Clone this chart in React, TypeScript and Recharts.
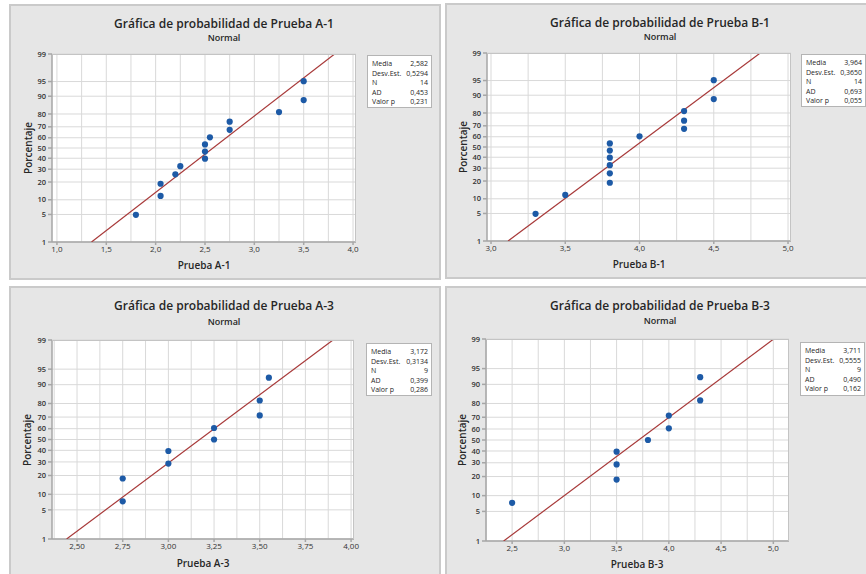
import React from 'react';
import { ScatterChart, Scatter, XAxis, YAxis, CartesianGrid } from 'recharts';

// percent scale of the normal probability axis
const percentTicks = [1, 5, 10, 20, 30, 40, 50, 60, 70, 80, 90, 95, 99];
const statLabels = ['Media', 'Desv.Est.', 'N', 'AD', 'Valor p'];
const statDigits = [3, 4, 0, 3, 3];

// Prueba A-1
const a1Values = [1.8, 2.05, 2.05, 2.2, 2.25, 2.5, 2.5, 2.5, 2.55, 2.75, 2.75, 3.25, 3.5, 3.5];
const a1Percent = [4.9, 11.8, 18.8, 25.7, 32.6, 39.6, 46.5, 53.5, 60.4, 67.4, 74.3, 81.3, 88.2, 95.1];
const a1Stats = [2.582, 0.5294, 14, 0.453, 0.231];
const a1XTicks = [1, 1.5, 2, 2.5, 3, 3.5, 4];
const a1XGrid = [1, 1.25, 1.5, 1.75, 2, 2.25, 2.5, 2.75, 3, 3.25, 3.5, 3.75, 4];

// Prueba B-1
const b1Values = [3.3, 3.5, 3.8, 3.8, 3.8, 3.8, 3.8, 3.8, 4.0, 4.3, 4.3, 4.3, 4.5, 4.5];
const b1Percent = [4.9, 11.8, 18.8, 25.7, 32.6, 39.6, 46.5, 53.5, 60.4, 67.4, 74.3, 81.3, 88.2, 95.1];
const b1Stats = [3.964, 0.365, 14, 0.693, 0.055];
const b1XTicks = [3, 3.5, 4, 4.5, 5];
const b1XGrid = [3, 3.25, 3.5, 3.75, 4, 4.25, 4.5, 4.75, 5];

// Prueba A-3
const a3Values = [2.75, 2.75, 3.0, 3.0, 3.25, 3.25, 3.5, 3.5, 3.55];
const a3Percent = [7.4, 18.1, 28.7, 39.4, 50, 60.6, 71.3, 81.9, 92.6];
const a3Stats = [3.172, 0.3134, 9, 0.399, 0.286];
const a3XTicks = [2.5, 2.75, 3, 3.25, 3.5, 3.75, 4];
const a3XGrid = [2.375, 2.5, 2.625, 2.75, 2.875, 3, 3.125, 3.25, 3.375, 3.5, 3.625, 3.75, 3.875, 4];

// Prueba B-3
const b3Values = [2.5, 3.5, 3.5, 3.5, 3.8, 4.0, 4.0, 4.3, 4.3];
const b3Percent = [7.4, 18.1, 28.7, 39.4, 50, 60.6, 71.3, 81.9, 92.6];
const b3Stats = [3.711, 0.5555, 9, 0.49, 0.162];
const b3XTicks = [2.5, 3, 3.5, 4, 4.5, 5];
const b3XGrid = [2.25, 2.5, 2.75, 3, 3.25, 3.5, 3.75, 4, 4.25, 4.5, 4.75, 5];

// inverse of the standard normal CDF (Acklam)
function normInv(p: number): number {
  const a = [-39.69683028665376, 220.9460984245205, -275.9285104469687, 138.357751867269, -30.66479806614716, 2.506628277459239];
  const b = [-54.47609879822406, 161.5858368580409, -155.6989798598866, 66.80131188771972, -13.28068155288572];
  const c = [-0.007784894002430293, -0.3223964580411365, -2.400758277161838, -2.549732539343734, 4.374664141464968, 2.938163982698783];
  const d = [0.007784695709041462, 0.3224671290700398, 2.445134137142996, 3.754408661907416];
  const pl = 0.02425;
  if (p < pl) {
    const q = Math.sqrt(-2 * Math.log(p));
    return (((((c[0] * q + c[1]) * q + c[2]) * q + c[3]) * q + c[4]) * q + c[5]) / ((((d[0] * q + d[1]) * q + d[2]) * q + d[3]) * q + 1);
  }
  if (p > 1 - pl) {
    const q = Math.sqrt(-2 * Math.log(1 - p));
    return -(((((c[0] * q + c[1]) * q + c[2]) * q + c[3]) * q + c[4]) * q + c[5]) / ((((d[0] * q + d[1]) * q + d[2]) * q + d[3]) * q + 1);
  }
  const q = p - 0.5;
  const r = q * q;
  return (((((a[0] * r + a[1]) * r + a[2]) * r + a[3]) * r + a[4]) * r + a[5]) * q / (((((b[0] * r + b[1]) * r + b[2]) * r + b[3]) * r + b[4]) * r + 1);
}

const zTicks = percentTicks.map((p) => normInv(p / 100));
const zLo = zTicks[0];
const zHi = zTicks[zTicks.length - 1];

const fmt = (v: number, digits: number) => v.toFixed(digits).replace('.', ',');

const FONT = '"Open Sans", "Noto Sans", sans-serif';
const TEXT = '#262626';

type Rect = { x: number; y: number; w: number; h: number };
type Pt = { x: number; y: number };

interface PanelProps {
  name: string;
  values: number[];
  percent: number[];
  stats: number[];
  xDomain: [number, number];
  xTicks: number[];
  xGrid: number[];
  tickDigits: number;
  panel: Rect;
  plot: { left: number; top: number; right: number; bottom: number };
  title: Pt;
  sub: Pt;
  xLabel: Pt;
  yLabel: Pt;
  box: Rect;
}

const Dot = (props: any) => <circle cx={props.cx} cy={props.cy} r={3.1} fill="#1d5aa6" />;

const Panel = (p: PanelProps) => {
  const points = p.values.map((v, i) => ({ x: v, z: normInv(p.percent[i] / 100) }));
  const mean = p.stats[0];
  const sd = p.stats[1];
  const fit = [
    { x: mean + sd * zLo, z: zLo },
    { x: mean + sd * zHi, z: zHi },
  ];
  const ox = p.panel.x;
  const oy = p.panel.y;
  const xAxisH = 24;
  const yAxisW = p.plot.left - ox;
  const margin = {
    top: p.plot.top - oy,
    right: ox + p.panel.w - p.plot.right,
    bottom: oy + p.panel.h - p.plot.bottom - xAxisH,
    left: 0,
  };
  const abs = (pt: Pt): React.CSSProperties => ({
    position: 'absolute',
    left: pt.x - ox,
    top: pt.y - oy,
    whiteSpace: 'nowrap',
    fontFamily: FONT,
    color: TEXT,
    lineHeight: 1,
  });
  return (
    <div
      style={{
        position: 'absolute',
        left: ox,
        top: oy,
        width: p.panel.w,
        height: p.panel.h,
        background: '#e6e6e6',
        boxShadow: 'inset 0 0 0 2px #cacaca',
      }}
    >
      <div style={{ ...abs(p.title), transform: 'translate(-50%, -50%)', fontSize: 12, fontWeight: 600 }}>
        {'Gráfica de probabilidad de ' + p.name}
      </div>
      <div style={{ ...abs(p.sub), transform: 'translate(-50%, -50%)', fontSize: 9, fontWeight: 600 }}>Normal</div>
      <div style={{ ...abs(p.xLabel), transform: 'translate(-50%, -50%)', fontSize: 10, fontWeight: 600 }}>{p.name}</div>
      <div style={{ ...abs(p.yLabel), transform: 'translate(-50%, -50%) rotate(-90deg)', fontSize: 10, fontWeight: 600 }}>
        Porcentaje
      </div>
      <div style={{ position: 'absolute', left: 0, top: 0 }}>
        <ScatterChart width={p.panel.w} height={p.panel.h} margin={margin}>
          <CartesianGrid
            fill="#ffffff"
            stroke="#d9d9d9"
            strokeWidth={1}
            verticalValues={p.xGrid}
            horizontalValues={zTicks}
          />
          <XAxis
            type="number"
            dataKey="x"
            domain={p.xDomain}
            ticks={p.xTicks}
            interval={0}
            allowDataOverflow
            height={xAxisH}
            stroke="#a6a6a6"
            strokeWidth={1.5}
            tickSize={3}
            tickMargin={1}
            tick={{ fontSize: 8, fill: '#333', fontFamily: FONT }}
            tickFormatter={(v: number) => fmt(v, p.tickDigits)}
          />
          <YAxis
            type="number"
            dataKey="z"
            domain={[zLo, zHi]}
            ticks={zTicks}
            interval={0}
            allowDataOverflow
            width={yAxisW}
            stroke="#a6a6a6"
            strokeWidth={1.5}
            tickSize={4}
            tickMargin={2}
            tick={{ fontSize: 7.5, fill: '#333', fontFamily: FONT, fontWeight: 600 }}
            tickFormatter={(v: number) => {
              let best = 0;
              zTicks.forEach((z, i) => {
                if (Math.abs(z - v) < Math.abs(zTicks[best] - v)) best = i;
              });
              return String(percentTicks[best]);
            }}
          />
          <Scatter
            data={fit}
            line={{ stroke: '#a83a3a', strokeWidth: 1.2 }}
            shape={() => <g />}
            legendType="none"
            isAnimationActive={false}
          />
          <Scatter data={points} shape={Dot} isAnimationActive={false} />
        </ScatterChart>
      </div>
      <div
        style={{
          position: 'absolute',
          left: p.plot.left - ox,
          top: p.plot.top - oy,
          width: p.plot.right - p.plot.left,
          height: p.plot.bottom - p.plot.top,
          boxSizing: 'border-box',
          border: '1px solid #c4c4c4',
          borderLeft: 'none',
          borderBottom: 'none',
          pointerEvents: 'none',
        }}
      />
      <div
        style={{
          position: 'absolute',
          left: p.box.x - ox,
          top: p.box.y - oy,
          width: p.box.w,
          height: p.box.h,
          boxSizing: 'border-box',
          background: '#ffffff',
          border: '1px solid #b4b4b4',
          padding: '3px 3px 0 4px',
          fontFamily: FONT,
          fontSize: 7,
          color: TEXT,
        }}
      >
        {statLabels.map((l, i) => (
          <div key={l} style={{ display: 'flex', justifyContent: 'space-between', height: 9.6, lineHeight: '9.6px' }}>
            <span>{l}</span>
            <span>{fmt(p.stats[i], statDigits[i])}</span>
          </div>
        ))}
      </div>
    </div>
  );
};

export default function App() {
  return (
    <div style={{ position: 'absolute', left: 0, top: 0, width: 866, height: 574, overflow: 'hidden', background: '#ffffff' }}>
      <Panel
        name="Prueba A-1"
        values={a1Values}
        percent={a1Percent}
        stats={a1Stats}
        xDomain={[0.95, 4.03]}
        xTicks={a1XTicks}
        xGrid={a1XGrid}
        tickDigits={1}
        panel={{ x: 9, y: 4, w: 432, h: 276 }}
        plot={{ left: 52, top: 54, right: 356, bottom: 242 }}
        title={{ x: 224, y: 24 }}
        sub={{ x: 224, y: 37 }}
        xLabel={{ x: 204, y: 265 }}
        yLabel={{ x: 28, y: 148 }}
        box={{ x: 367, y: 55, w: 65, h: 53 }}
      />
      <Panel
        name="Prueba B-1"
        values={b1Values}
        percent={b1Percent}
        stats={b1Stats}
        xDomain={[2.973, 5.02]}
        xTicks={b1XTicks}
        xGrid={b1XGrid}
        tickDigits={1}
        panel={{ x: 445, y: 3, w: 432, h: 276 }}
        plot={{ left: 487, top: 53, right: 791, bottom: 241 }}
        title={{ x: 660, y: 23 }}
        sub={{ x: 660, y: 36 }}
        xLabel={{ x: 639, y: 264 }}
        yLabel={{ x: 463, y: 147 }}
        box={{ x: 801, y: 54, w: 65, h: 53 }}
      />
      <Panel
        name="Prueba A-3"
        values={a3Values}
        percent={a3Percent}
        stats={a3Stats}
        xDomain={[2.363, 4.016]}
        xTicks={a3XTicks}
        xGrid={a3XGrid}
        tickDigits={2}
        panel={{ x: 9, y: 286, w: 432, h: 300 }}
        plot={{ left: 52, top: 340, right: 354, bottom: 539 }}
        title={{ x: 224, y: 306 }}
        sub={{ x: 224, y: 321 }}
        xLabel={{ x: 203, y: 563 }}
        yLabel={{ x: 27, y: 440 }}
        box={{ x: 366, y: 343, w: 66, h: 53 }}
      />
      <Panel
        name="Prueba B-3"
        values={b3Values}
        percent={b3Percent}
        stats={b3Stats}
        xDomain={[2.25, 5.15]}
        xTicks={b3XTicks}
        xGrid={b3XGrid}
        tickDigits={1}
        panel={{ x: 445, y: 286, w: 432, h: 300 }}
        plot={{ left: 486, top: 339, right: 789, bottom: 541 }}
        title={{ x: 660, y: 306 }}
        sub={{ x: 660, y: 320 }}
        xLabel={{ x: 637, y: 564 }}
        yLabel={{ x: 462, y: 440 }}
        box={{ x: 800, y: 342, w: 65, h: 54 }}
      />
    </div>
  );
}
